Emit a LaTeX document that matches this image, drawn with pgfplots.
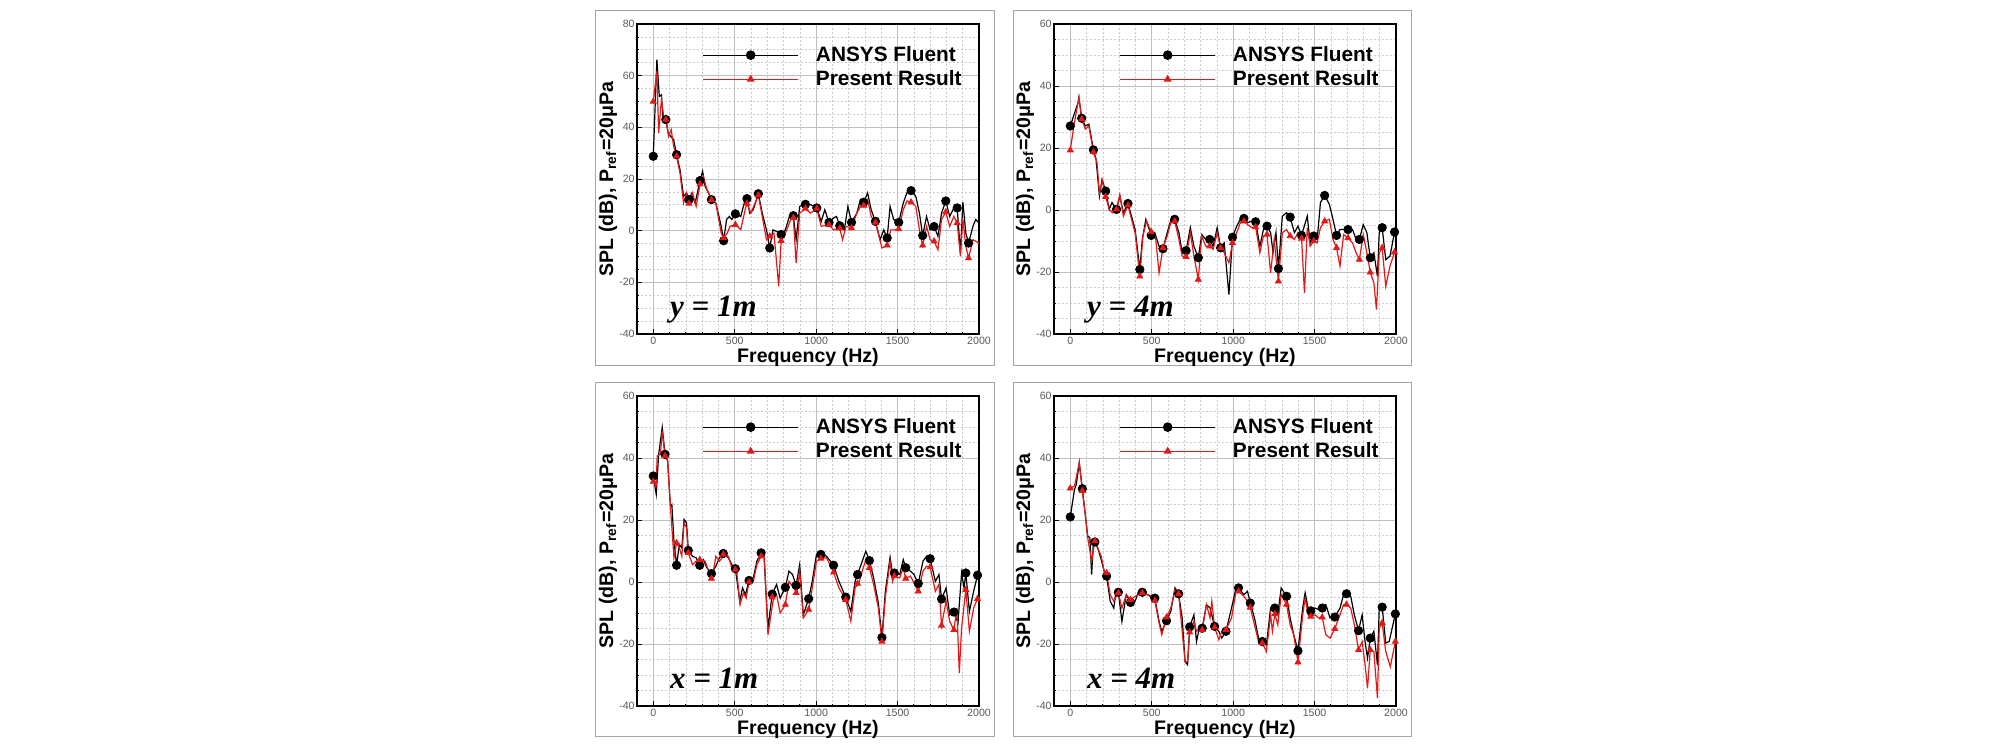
\documentclass[border=0pt]{standalone}
\usepackage{pgfplots}
\pgfplotsset{compat=1.18}
\usepackage{fontspec}
\setmainfont{Liberation Sans}
\newfontfamily\tnr{Liberation Serif}
\definecolor{myred}{RGB}{225,25,25}
\pgfplotsset{
 panel/.style={
  scale only axis, width=171pt, height=155pt, anchor=south west,
  xmin=-100, xmax=2000, xtick={0,500,1000,1500,2000}, minor x tick num=4,
  ymin=-40, ytick distance=20, minor y tick num=3,
  grid=both,
  major grid style={gray!50, line width=0.45pt},
  minor grid style={gray!40, dash pattern=on 1pt off 1pt, line width=0.35pt},
  axis line style={line width=0.9pt},
  tick align=inside, major tick length=2.5pt, minor tick length=1.2pt,
  tick style={black, line width=0.4pt},
  xtick pos=bottom, ytick pos=left,
  /pgf/number format/assume math mode=true,
  /pgf/number format/1000 sep={},
  ticklabel style={font=\fontsize{5.3}{6}\selectfont, text=black!65, inner sep=1pt},
  xticklabel style={yshift=-0.5pt},
  xlabel={Frequency (Hz)},
  ylabel={SPL (dB), P\textsubscript{ref}=20μPa},
  label style={font=\fontsize{9.8}{11}\selectfont\bfseries, inner sep=0pt},
  xlabel style={at={(axis description cs:0.5,-0.074)}, anchor=center},
  ylabel style={at={(axis description cs:-0.085,0.5)}, anchor=center},
  legend style={at={(rel axis cs:0.19,0.93)}, anchor=north west, draw=none, fill=none,
    inner sep=0pt, font=\fontsize{10.4}{12}\selectfont\bfseries, row sep=3pt,
    nodes={inner sep=0pt, anchor=west},
    /tikz/every odd column/.append style={column sep=8.5pt}},
  legend cell align=left,
  legend image code/.code={\draw[mark repeat=2,mark phase=2] plot coordinates {(0pt,0pt) (23.85pt,0pt) (47.7pt,0pt)};},
 },
 bl/.style={black, line width=0.6pt, no marks},
 rd/.style={myred, line width=0.6pt, no marks},
 blm/.style={black, only marks, mark=*, mark size=2.1pt, forget plot},
 rdm/.style={myred, only marks, mark=triangle*, mark size=1.7pt, forget plot},
}
\newcommand\leg{%
  \addlegendimage{black, line width=0.6pt, mark=*, mark size=2.1pt}
  \addlegendentry{ANSYS Fluent}
  \addlegendimage{myred, line width=0.6pt, mark=triangle*, mark size=1.7pt}
  \addlegendentry{Present Result}}
\newcommand\plabel[1]{\node[anchor=base west, font=\tnr\fontsize{15.5}{16}\selectfont\bfseries\itshape] at (rel axis cs:0.076,0.055) {#1};}
\begin{document}
\begin{tikzpicture}
\path (0pt,0pt) rectangle (1004pt,375.5pt);
\draw[gray!70, line width=0.5pt] (297.5pt,193pt) rectangle (497pt,370pt);
\draw[gray!70, line width=0.5pt] (506.5pt,193pt) rectangle (705.5pt,370pt);
\draw[gray!70, line width=0.5pt] (297.5pt,7.5pt) rectangle (497pt,184.5pt);
\draw[gray!70, line width=0.5pt] (506.5pt,7.5pt) rectangle (705.5pt,184.5pt);

% ---------- Panel 1: y = 1m ----------
\begin{axis}[panel, at={(318.5pt,208.5pt)}, ymax=80]
\leg
\addplot[bl] coordinates {(0,28.8)(22,66.2)(37,52)(50,52.6)(59,44.3)(77,43)(92,37.8)(107,36.5)(125,35.2)(143,29.4)(164,23.6)(186,13.3)(204,14.6)(219,12)(235,14.3)(257,10.7)(287,19.4)(303,23)(318,17.2)(340,14.6)(357,12)(384,10.7)(417,1.7)(432,-3.9)(450,4.3)(467,5.5)(482,4.3)(504,6.5)(537,5.5)(564,12)(575,12.4)(592,6.8)(614,8.1)(645,14.3)(669,6.8)(695,0.3)(715,-6.7)(735,0.3)(757,-0.3)(785,-1.5)(811,0.3)(838,6)(860,5.8)(877,-3.5)(899,9.4)(934,10.2)(965,10.1)(1004,8.8)(1031,3.5)(1053,8.1)(1079,3.2)(1107,4.9)(1125,5.5)(1145,1.9)(1173,0.3)(1195,9.4)(1217,3.2)(1250,6.8)(1272,12)(1292,11)(1316,14.6)(1338,8.1)(1364,3.5)(1393,-3.5)(1415,0.3)(1436,-2.8)(1454,9.4)(1476,4.3)(1507,3.2)(1535,10.7)(1557,14.6)(1583,15.5)(1612,13.3)(1634,6.8)(1654,-1.9)(1678,5.5)(1700,0.3)(1724,1.7)(1748,-2.2)(1770,6.8)(1796,11.5)(1820,5.5)(1846,8.8)(1866,8.8)(1886,-8.6)(1901,11)(1919,-1)(1936,-4.8)(1963,1.7)(1980,4.3)(2000,3)};
\addplot[blm] coordinates {(0,28.8)(77,43)(143,29.4)(219,12)(287,19.4)(357,12)(432,-3.9)(504,6.5)(575,12.4)(645,14.3)(715,-6.7)(785,-1.5)(860,5.8)(934,10.2)(1004,8.8)(1079,3.2)(1145,1.9)(1217,3.2)(1292,11)(1364,3.6)(1436,-2.8)(1507,3.2)(1583,15.5)(1654,-1.9)(1724,1.6)(1796,11.5)(1866,8.8)(1936,-4.8)};
\addplot[rd] coordinates {(0,50.1)(22,61.7)(33,37.8)(50,50.7)(66,43.2)(77,43.2)(94,36.5)(110,39.1)(125,32.6)(143,28.8)(164,22.3)(186,10.7)(204,14.6)(219,10.5)(241,14.6)(263,9.4)(287,17.8)(307,21)(329,15.9)(357,12)(384,10.7)(417,-1)(432,-2.8)(454,-1)(471,1.7)(504,2.3)(537,0.4)(564,8.1)(575,10.5)(599,6.8)(645,13.7)(669,5.5)(695,-3.5)(715,-2.2)(741,-1)(770,-21.5)(785,-3.9)(811,-1)(844,4.3)(860,4.9)(877,-12.5)(899,6.8)(934,8.5)(965,6.8)(1004,8.5)(1031,1.7)(1079,2.3)(1107,0.3)(1145,0.9)(1162,-3.5)(1184,1.7)(1217,1)(1250,6.8)(1272,9.4)(1292,9.7)(1316,12)(1338,5.5)(1364,3.2)(1404,-6.7)(1436,-5.7)(1458,0.3)(1480,0.3)(1507,0.6)(1535,8.1)(1557,11.5)(1583,11.1)(1612,9.4)(1634,0.3)(1654,-5.7)(1678,1.7)(1700,-3.5)(1724,-4.1)(1748,-7.4)(1770,4.3)(1796,7.2)(1820,1.7)(1846,5.5)(1866,2.9)(1886,-9.9)(1901,4.3)(1919,-6.1)(1936,-10.6)(1963,-3.5)(2000,-4.8)};
\addplot[rdm] coordinates {(0,50)(77,43)(143,28.8)(219,10.5)(287,18)(357,12)(432,-2.8)(504,2.3)(575,10.5)(645,13.7)(715,-2.2)(785,-3.9)(860,5)(934,8.6)(1004,8.6)(1079,2.3)(1145,0.9)(1217,1)(1292,9.7)(1364,3.2)(1436,-5.7)(1507,0.6)(1583,11)(1654,-5.7)(1724,-4.1)(1796,7.2)(1866,3)(1936,-10.6)};
\plabel{y = 1m}
\end{axis}

% ---------- Panel 2: y = 4m ----------
\begin{axis}[panel, at={(527pt,208.5pt)}, ymax=60]
\leg
\addplot[bl] coordinates {(0,27.1)(48,34.7)(53,36.3)(70,29.6)(92,27.1)(114,27.7)(142,19.4)(158,16.4)(179,4.5)(195,9.9)(217,6.1)(239,0.2)(256,2.4)(284,0.2)(304,4.5)(326,-0.9)(354,2.1)(376,-2)(398,-6.3)(427,-19.2)(442,-9.5)(464,-3)(497,-8.2)(519,-7.3)(545,-11.7)(569,-12.5)(595,-7.3)(619,-3)(641,-3)(667,-7.3)(687,-13.8)(711,-13.1)(737,-5.7)(759,-11.7)(786,-15.4)(807,-7.9)(832,-9.5)(856,-9.5)(877,-11.7)(902,-5.7)(923,-12.2)(945,-10.6)(974,-27.3)(996,-8.8)(1022,-5.2)(1044,-3)(1066,-2.7)(1088,-4.1)(1114,-3.6)(1138,-3.8)(1164,-11.7)(1186,-6.3)(1208,-5.2)(1230,-7.3)(1245,-13.8)(1263,-7.3)(1278,-18.9)(1302,-2)(1328,-0.9)(1350,-2.3)(1376,-7.3)(1398,-5.2)(1420,-8.2)(1455,-2)(1473,-10.6)(1495,-8.4)(1516,-9.5)(1536,2.4)(1562,4.7)(1591,1.8)(1613,-3)(1635,-8.2)(1656,-6.3)(1678,-6.3)(1705,-6.3)(1733,-6.3)(1755,-9.5)(1775,-9.5)(1799,-4.7)(1821,-7.3)(1842,-15.4)(1864,-13.8)(1886,-21.4)(1897,-7.3)(1915,-5.7)(1937,-16)(1963,-14.9)(1991,-7.1)};
\addplot[blm] coordinates {(0,27.1)(70,29.6)(142,19.4)(217,6.1)(284,0.2)(354,2.1)(427,-19.2)(497,-8.2)(569,-12.5)(641,-3)(711,-13.1)(786,-15.4)(856,-9.5)(923,-12.2)(996,-8.8)(1066,-2.7)(1138,-3.8)(1208,-5.2)(1278,-18.9)(1350,-2.3)(1420,-8.2)(1495,-8.4)(1562,4.7)(1635,-8.2)(1705,-6.3)(1775,-9.5)(1842,-15.4)(1915,-5.7)(1991,-7.1)};
\addplot[rd] coordinates {(0,19.3)(22,27.1)(53,36.3)(70,29.3)(92,26.1)(114,27.1)(142,18.7)(164,15.3)(179,5.6)(197,9.4)(217,4.3)(239,0.2)(260,-0.9)(284,0.2)(304,5)(326,-2)(354,1.5)(376,-3)(398,-7.3)(427,-21.4)(446,-8.4)(468,-3.6)(497,-7)(523,-8.4)(545,-20.3)(569,-12.2)(595,-8.4)(619,-3.6)(641,-3.6)(667,-9.5)(687,-14.9)(711,-15.1)(737,-7.3)(759,-14.9)(786,-22.4)(807,-8.4)(832,-11.7)(856,-11.7)(877,-12.7)(902,-7.3)(923,-12.2)(945,-13.8)(974,-17)(996,-10.6)(1022,-7.3)(1044,-4.1)(1066,-3.6)(1088,-4.7)(1114,-5.7)(1138,-5.5)(1164,-13.8)(1186,-8.4)(1208,-7.9)(1230,-20.3)(1252,-9.5)(1278,-23)(1302,-7.3)(1328,-6.3)(1350,-8.4)(1376,-9.5)(1398,-7.3)(1420,-9.2)(1438,-26.7)(1455,-5.7)(1473,-11.7)(1495,-10)(1516,-10.6)(1536,-5.7)(1562,-3.6)(1591,-3)(1613,-9.5)(1635,-12.2)(1656,-18.1)(1678,-7.9)(1705,-9)(1733,-10.6)(1755,-13.8)(1775,-16)(1799,-7.9)(1821,-13.8)(1842,-20.1)(1864,-23.5)(1880,-32.1)(1897,-13.8)(1915,-12.2)(1937,-24.6)(1963,-18.1)(1991,-13.6)};
\addplot[rdm] coordinates {(0,19.3)(70,29.3)(142,18.7)(217,4.3)(284,0.2)(354,1.5)(427,-21.4)(497,-7)(569,-12.2)(641,-3.6)(711,-15.1)(786,-22.4)(856,-11.7)(923,-12.2)(996,-10.6)(1066,-3.6)(1138,-5.5)(1208,-7.9)(1278,-23)(1350,-8.4)(1420,-9.2)(1495,-10)(1562,-3.6)(1635,-12.2)(1705,-9)(1775,-16)(1842,-20.1)(1915,-12.2)(1991,-13.6)};
\plabel{y = 4m}
\end{axis}

% ---------- Panel 3: x = 1m ----------
\begin{axis}[panel, at={(318.5pt,22.5pt)}, ymax=60]
\leg
\addplot[bl] coordinates {(0,34.2)(18,28.3)(33,41.2)(55,49.9)(72,41.2)(88,39.1)(105,24.5)(114,25)(127,13.2)(143,5.4)(160,12.1)(175,11)(189,20.2)(204,19.1)(215,10.2)(241,8.3)(263,7.8)(285,5.4)(307,7.2)(329,4.6)(357,2.7)(384,5.1)(406,7.8)(430,9.2)(461,7.8)(482,5.6)(504,4.3)(531,-6.2)(548,-1.9)(566,-4.1)(588,0.5)(614,1.3)(636,6.7)(662,9.4)(680,8.3)(704,-14.9)(730,-3.9)(757,-0.8)(779,-5.2)(811,-1.7)(833,3.5)(855,2.4)(877,-1.1)(899,5.6)(921,-10.6)(954,-5.4)(976,0.2)(1002,8.9)(1029,8.9)(1064,8.3)(1107,5.4)(1140,0.2)(1182,-4.9)(1213,-9.5)(1239,0.2)(1254,2.4)(1283,6.7)(1305,9.9)(1327,6.9)(1353,1.3)(1382,-6.8)(1404,-17.9)(1425,-3)(1454,8)(1469,2.4)(1480,2.9)(1513,2.4)(1535,7.2)(1550,4.6)(1579,3.5)(1601,2.4)(1627,-0.5)(1656,6.7)(1678,8.3)(1700,7.5)(1732,0.2)(1754,2.4)(1770,-5.5)(1798,-1.9)(1820,-10.6)(1846,-9.7)(1871,-13.2)(1893,2.9)(1908,-1.9)(1919,2.9)(1941,-9.5)(1967,-3)(1991,2.2)(2000,2.4)};
\addplot[blm] coordinates {(0,34.2)(72,41.2)(143,5.4)(215,10.2)(285,5.4)(357,2.7)(430,9.2)(504,4.3)(588,0.5)(662,9.4)(730,-3.9)(811,-1.7)(877,-1.1)(954,-5.4)(1029,8.9)(1107,5.4)(1182,-4.9)(1254,2.4)(1327,6.9)(1404,-17.9)(1480,2.9)(1550,4.6)(1627,-0.5)(1700,7.5)(1770,-5.5)(1846,-9.7)(1919,2.9)(1991,2.2)};
\addplot[rd] coordinates {(0,32.4)(17.5,31)(24,40.7)(44,41.2)(55,48.8)(72,40.7)(88,39.1)(105,24.5)(127,7.8)(143,12.6)(160,11)(175,8.3)(189,19.1)(204,17.5)(215,9.4)(241,5.6)(263,6.7)(292,7.2)(318,6.7)(340,3.5)(362,1.1)(384,8.3)(406,6.7)(439,8.9)(461,8.3)(482,4.6)(511,4)(533,-7.3)(553,-3.5)(570,-5.2)(588,0)(614,0.2)(636,5.6)(662,8.3)(682,7.8)(704,-17)(739,-4.9)(757,-4.1)(779,-10)(811,-7.3)(833,0.2)(855,-1.4)(882,-3.5)(899,3.5)(921,-11.6)(954,-8.9)(976,-1.9)(1002,6.7)(1029,7.6)(1064,7.8)(1107,3.1)(1140,-1.9)(1182,-5.7)(1213,-12.7)(1239,-1.9)(1261,-0.5)(1283,3.5)(1305,7.2)(1327,4.6)(1353,-0.8)(1382,-8.4)(1404,-19.2)(1425,-4.9)(1454,6.7)(1469,0.2)(1480,1.9)(1513,1.3)(1535,4.6)(1550,1.1)(1579,1.9)(1601,-0.3)(1627,-3)(1656,3.5)(1678,5.1)(1700,4.8)(1732,-3)(1754,-0.8)(1770,-14)(1798,-6.2)(1820,-12.7)(1846,-15.4)(1864,-8.4)(1879,-29.4)(1893,-14.9)(1919,-2.5)(1941,-15.9)(1967,-8.4)(1991,-5.4)(2000,-6.2)};
\addplot[rdm] coordinates {(0,32.4)(72,40.7)(143,12.6)(215,9.4)(285,7.2)(357,1.1)(430,8.9)(504,4)(588,0)(662,8.3)(730,-4.9)(811,-7.3)(877,-3.5)(954,-8.9)(1029,7.6)(1107,3.1)(1182,-5.7)(1254,-0.5)(1327,4.6)(1404,-19.2)(1480,1.9)(1550,1.1)(1627,-3)(1700,4.8)(1770,-14)(1846,-15.4)(1919,-2.5)(1991,-5.4)};
\plabel{x = 1m}
\end{axis}

% ---------- Panel 4: x = 4m ----------
\begin{axis}[panel, at={(527pt,22.5pt)}, ymax=60]
\leg
\addplot[bl] coordinates {(0,21)(26,29.9)(37,31.5)(55,38.5)(74,30.1)(92,21.8)(107,14.8)(120,14.3)(131,2.4)(142,13.2)(151,12.9)(168,11)(190,7.2)(208,3.5)(223,1.9)(245,-6.2)(267,-8.4)(278,-4.1)(295,-3.3)(317,-12.7)(344,-4.1)(370,-6.6)(398,-6.2)(420,-3)(442,-3.3)(475,-4.1)(497,-4.6)(519,-5.2)(545,-12.7)(562,-15.9)(591,-12.5)(617,-9.5)(643,-1.9)(665,-3.8)(687,-11.6)(705,-25.7)(720,-26.7)(733,-14.5)(759,-10.6)(775,-19.2)(792,-14.9)(810,-14.9)(836,-7.3)(858,-8.4)(886,-14.3)(912,-15.9)(930,-18.1)(956,-15.9)(990,-8.4)(1018,-1.9)(1033,-1.9)(1066,-4.1)(1088,-3)(1105,-6.8)(1131,-11.6)(1158,-18.6)(1179,-19.2)(1204,-20.3)(1230,-8.4)(1256,-8.4)(1274,-10.6)(1295,-1.9)(1328,-4.6)(1350,-11.6)(1372,-17)(1398,-22.2)(1427,-8.4)(1442,-3.5)(1460,-8.4)(1477,-9.3)(1503,-8.4)(1525,-8.9)(1547,-8.4)(1569,-7.3)(1595,-11.6)(1624,-11.3)(1656,-8.4)(1678,-4.1)(1696,-3.8)(1722,-4.6)(1744,-10.6)(1770,-15.7)(1792,-10.6)(1810,-19.2)(1825,-24.6)(1842,-18.1)(1864,-15.9)(1886,-26.7)(1897,-8.4)(1915,-8.1)(1937,-19.7)(1958,-19.2)(1996,-10.3)};
\addplot[blm] coordinates {(0,21)(74,30.1)(151,12.9)(223,1.9)(295,-3.3)(370,-6.6)(442,-3.3)(519,-5.2)(591,-12.5)(665,-3.8)(733,-14.5)(810,-14.9)(886,-14.3)(956,-15.9)(1033,-1.9)(1105,-6.8)(1179,-19.2)(1256,-8.4)(1328,-4.6)(1398,-22.2)(1477,-9.3)(1547,-8.4)(1624,-11.3)(1696,-3.8)(1770,-15.7)(1842,-18.1)(1915,-8.1)(1996,-10.3)};
\addplot[rd] coordinates {(0,30.2)(26,31)(55,38.5)(74,29.4)(92,21.8)(107,14.3)(131,6.7)(151,13.2)(168,11)(190,8.3)(208,3.5)(223,2.9)(245,-4.1)(267,-6.2)(295,-3.5)(317,-8.4)(344,-4.1)(370,-5.7)(398,-4.6)(442,-3.5)(475,-4.1)(519,-6)(545,-13.2)(562,-17)(591,-11.4)(617,-8.4)(643,-2.5)(665,-3.8)(687,-15.9)(705,-25.7)(720,-25.7)(733,-16.2)(759,-12.7)(775,-15.9)(792,-14.9)(810,-15.4)(836,-7.3)(858,-11.6)(869,-6.2)(886,-14.6)(912,-18.6)(930,-15.9)(956,-15.4)(990,-11.6)(1018,-3)(1033,-3)(1066,-4.6)(1088,-6.2)(1105,-8.2)(1131,-13.8)(1158,-19.7)(1179,-19.7)(1204,-22.4)(1230,-10.6)(1241,-15.9)(1256,-10.3)(1274,-13.8)(1295,-4.1)(1328,-7.3)(1350,-13.8)(1372,-17)(1398,-25.9)(1427,-10.6)(1442,-5.2)(1460,-10.6)(1477,-11.1)(1503,-10.6)(1525,-11.6)(1547,-11.4)(1569,-17)(1595,-18.1)(1624,-15.1)(1656,-10.6)(1678,-7.3)(1696,-7.3)(1722,-8.4)(1744,-13.8)(1770,-21.9)(1792,-19.2)(1810,-26.7)(1825,-34.3)(1842,-21.9)(1864,-22.4)(1886,-37.5)(1897,-14.9)(1915,-13.2)(1937,-22.4)(1965,-27.3)(1996,-19.2)};
\addplot[rdm] coordinates {(0,30.2)(74,29.4)(151,13.2)(223,2.9)(295,-3.5)(370,-5.7)(442,-3.5)(519,-6)(591,-11.4)(665,-3.8)(733,-16.2)(810,-15.4)(886,-14.6)(956,-15.4)(1033,-3)(1105,-8.2)(1179,-19.7)(1256,-10.3)(1328,-7.3)(1398,-25.9)(1477,-11.1)(1547,-11.4)(1624,-15.1)(1696,-7.3)(1770,-21.9)(1842,-21.9)(1915,-13.2)(1996,-19.2)};
\plabel{x = 4m}
\end{axis}
\end{tikzpicture}
\end{document}
